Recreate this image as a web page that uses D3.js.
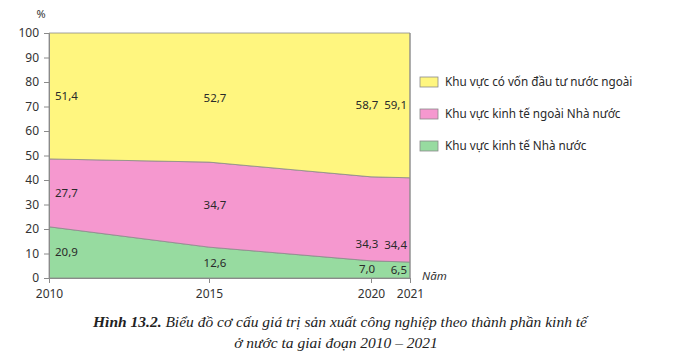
<!DOCTYPE html>
<html><head><meta charset="utf-8">
<script src="https://cdn.jsdelivr.net/npm/d3@7"></script>
<style>body{margin:0;background:#fff}svg{display:block}</style>
</head><body>
<script>
const years = [2010, 2015, 2020, 2021];
const yearPx = [49, 209, 371, 410];
const nhaNuoc = [20.9, 12.6, 7.0, 6.5];
const ngoaiNhaNuoc = [27.7, 34.7, 34.3, 34.4];
const nuocNgoai = [51.4, 52.7, 58.7, 59.1];
const seriesNames = ["Khu vực kinh tế Nhà nước", "Khu vực kinh tế ngoài Nhà nước", "Khu vực có vốn đầu tư nước ngoài"];
const yTicks = [0,10,20,30,40,50,60,70,80,90,100];
const colors = ["#97dba0", "#f598cf", "#fff67f"];

const W = 675, H = 358;
const svg = d3.select("body").append("svg").attr("width", W).attr("height", H);
const x = d3.scaleLinear().domain(years).range(yearPx);
const y = d3.scaleLinear().domain([0,100]).range([278, 33]);
const font = "'Noto Sans', sans-serif";

const rows = years.map((yr,i)=>({year:yr, a:nhaNuoc[i], b:ngoaiNhaNuoc[i], c:nuocNgoai[i]}));
const stack = d3.stack().keys(["a","b","c"])(rows);
const area = d3.area().x(d=>x(d.data.year)).y0(d=>y(d[0])).y1(d=>y(d[1]));

svg.append("g").selectAll("path").data(stack).join("path")
  .attr("d", area).attr("fill", (d,i)=>colors[i])
  .attr("stroke", "#8a8a8a").attr("stroke-width", 0.8);

// right border
svg.append("line").attr("x1", x(2021)).attr("x2", x(2021)).attr("y1", y(0)).attr("y2", y(100))
  .attr("stroke", "#8a8a8a").attr("stroke-width", 1);

// axes
const yAxis = d3.axisLeft(y).tickValues(yTicks).tickSize(5).tickPadding(5);
const gy = svg.append("g").attr("transform", `translate(${x(2010)},0)`).call(yAxis);
gy.select(".domain").attr("stroke", "#8a8a8a");
gy.selectAll(".tick line").attr("stroke", "#8a8a8a");
gy.selectAll("text").attr("font-family", font).attr("font-size", 12).attr("fill", "#333");

const xAxis = d3.axisBottom(x).tickValues(years).tickFormat(d3.format("d")).tickSize(5).tickPadding(6);
const gx = svg.append("g").attr("transform", `translate(0,${y(0)})`).call(xAxis);
gx.select(".domain").attr("stroke", "#8a8a8a");
gx.selectAll(".tick line").attr("stroke", "#8a8a8a");
gx.selectAll("text").attr("font-family", font).attr("font-size", 12).attr("fill", "#333");

svg.append("text").attr("x", 41).attr("y", 18).attr("text-anchor","middle")
  .attr("font-family", font).attr("font-size", 11).attr("fill", "#333").text("%");
svg.append("text").attr("x", 422).attr("y", 280)
  .attr("font-family", font).attr("font-size", 11.5).attr("font-style","italic").attr("fill", "#333").text("Năm");

// value labels
const fmt = v => d3.format(".1f")(v).replace(".", ",");
stack.forEach((s, si) => {
  s.forEach((d, i) => {
    let v = (d[0]+d[1])/2;
    if (si === 1 && i >= 2) v = d[0] + 7;
    let xp = x(d.data.year), anchor = "middle";
    if (i === 0) { xp = x(d.data.year) + 6; anchor = "start"; }
    else if (i === 1) { xp = x(d.data.year) + 6; }
    else if (i === 2) { xp = x(d.data.year) - 4; }
    else if (i === 3) { xp = x(d.data.year) - 3; anchor = "end"; }
    svg.append("text").attr("x", xp).attr("y", y(v)).attr("dy", "0.35em")
      .attr("text-anchor", anchor).attr("font-family", font).attr("font-size", 11.5)
      .attr("fill", "#2a2a2a").text(fmt(d[1]-d[0]));
  });
});

// legend
const legend = [2,1,0];
legend.forEach((si, k) => {
  const cy = 82 + k*32;
  svg.append("rect").attr("x", 420).attr("y", cy-5).attr("width", 18).attr("height", 10)
    .attr("fill", colors[si]).attr("stroke", "#8a8a8a").attr("stroke-width", 0.8);
  svg.append("text").attr("x", 445).attr("y", cy).attr("dy", "0.35em")
    .attr("font-family", font).attr("font-size", 11.7).attr("fill", "#2a2a2a").text(seriesNames[si]);
});

// caption
const serif = "'Liberation Serif', 'DejaVu Serif', serif";
const cap1 = svg.append("text").attr("x", 340).attr("y", 327).attr("text-anchor", "middle")
  .attr("font-family", serif).attr("font-size", 15.5).attr("font-style", "italic").attr("fill", "#222");
cap1.append("tspan").attr("font-weight", "bold").text("Hình 13.2. ");
cap1.append("tspan").text("Biểu đồ cơ cấu giá trị sản xuất công nghiệp theo thành phần kinh tế");
svg.append("text").attr("x", 336).attr("y", 348).attr("text-anchor", "middle")
  .attr("font-family", serif).attr("font-size", 15.5).attr("font-style", "italic").attr("fill", "#222")
  .text("ở nước ta giai đoạn 2010 – 2021");
</script>
</body></html>
